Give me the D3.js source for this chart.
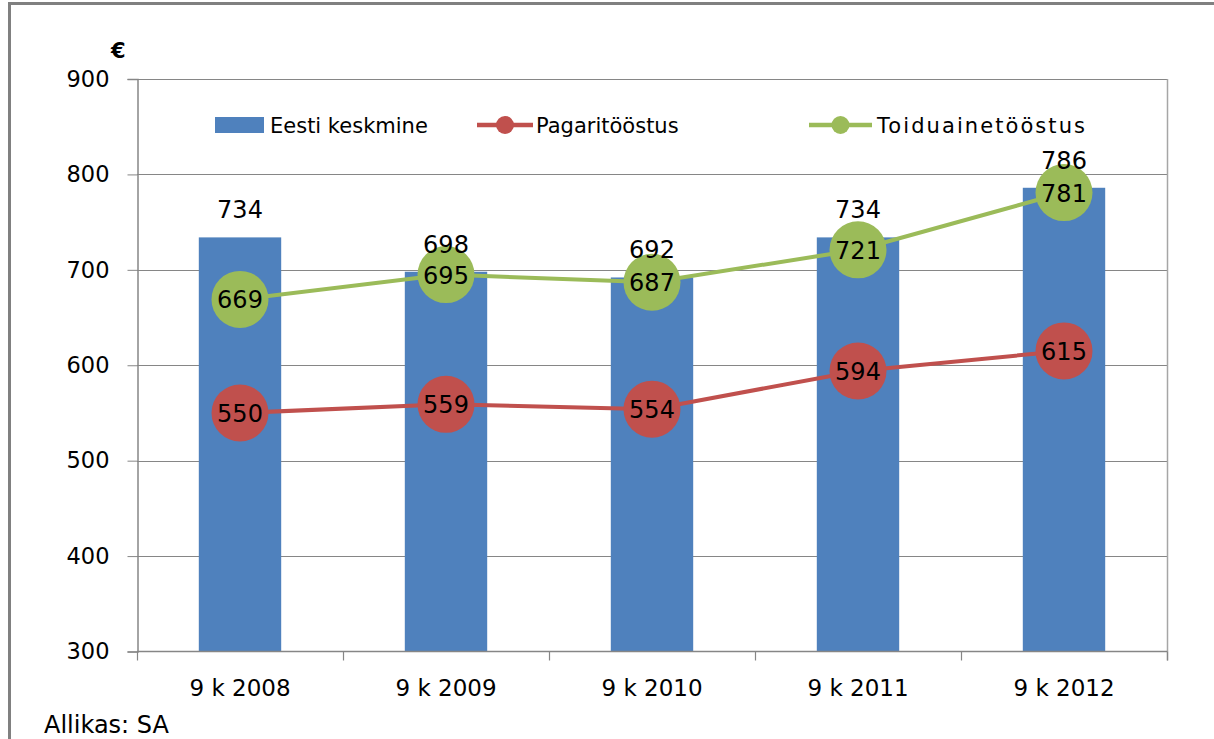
<!DOCTYPE html>
<html><head><meta charset="utf-8">
<script src="https://cdn.jsdelivr.net/npm/d3@7"></script>
<style>html,body{margin:0;padding:0;background:#fff}svg{display:block}text{font-family:"DejaVu Sans",Verdana,sans-serif}</style>
</head><body>
<svg id="c" width="1214" height="739"></svg>
<script>
const categories = ["9 k 2008","9 k 2009","9 k 2010","9 k 2011","9 k 2012"];
const eestiKeskmine = [734,698,692,734,786];
const pagaritoostus = [550,559,554,594,615];
const toiduainetoostus = [669,695,687,721,781];
const yTicks = [300,400,500,600,700,800,900];
const seriesNames = ["Eesti keskmine","Pagaritööstus","Toiduainetööstus"];
const colors = {bar:"#4F81BD", red:"#C0504D", green:"#9BBB59", grid:"#868686"};

const svg = d3.select("#c");
const L=137, R=1167, T=79, B=651.5;

// outer frame
svg.append("line").attr("x1",8).attr("x2",1214).attr("y1",3.5).attr("y2",3.5).attr("stroke","#808080").attr("stroke-width",3);
svg.append("line").attr("x1",9.5).attr("x2",9.5).attr("y1",2).attr("y2",739).attr("stroke","#808080").attr("stroke-width",3);

const x = d3.scaleBand().domain(categories).range([L,R]).paddingInner(0.6).paddingOuter(0.3);
const xc = d => x(d)+x.bandwidth()/2;
const y = d3.scaleLinear().domain([300,900]).range([B,T]);

// gridlines
svg.append("g").selectAll("line").data(yTicks.filter(t=>t>300)).join("line")
  .attr("x1",L).attr("x2",R).attr("y1",d=>Math.round(y(d))+0.5).attr("y2",d=>Math.round(y(d))+0.5)
  .attr("stroke",colors.grid).attr("stroke-width",1);
// right border
svg.append("line").attr("x1",R+0.5).attr("x2",R+0.5).attr("y1",T).attr("y2",B+9).attr("stroke","#A6A6A6").attr("stroke-width",1.5);

// y axis
const yAxis = d3.axisLeft(y).tickValues(yTicks).tickSize(10).tickPadding(16).tickFormat(d3.format("d"));
const gy = svg.append("g").attr("transform",`translate(${L+0.5},0)`).call(yAxis);
gy.select(".domain").attr("stroke","#868686").attr("stroke-width",1.5);
gy.selectAll(".tick line").attr("stroke","#868686");
gy.selectAll("text").attr("font-size",22.5).attr("fill","#000").attr("font-family","DejaVu Sans").attr("dx",-2);

// bars
svg.append("g").selectAll("rect").data(eestiKeskmine).join("rect")
  .attr("x",(d,i)=>x(categories[i])).attr("width",x.bandwidth())
  .attr("y",d=>y(d)).attr("height",d=>B-y(d)).attr("fill",colors.bar);

// x axis
const xb = d3.scalePoint().domain(d3.range(6)).range([L,R]);
const gx = svg.append("g").attr("transform",`translate(0,${B})`);
gx.append("line").attr("x1",L).attr("x2",R).attr("y1",0).attr("y2",0).attr("stroke","#868686").attr("stroke-width",1.5);
gx.selectAll("line.t").data(d3.range(6)).join("line").attr("class","t")
  .attr("x1",d=>xb(d)+0.5).attr("x2",d=>xb(d)+0.5).attr("y1",0).attr("y2",9).attr("stroke","#868686").attr("stroke-width",1.2);
gx.selectAll("text").data(categories).join("text")
  .attr("x",d=>xc(d)).attr("y",44).attr("text-anchor","middle").attr("font-size",23).attr("fill","#000").text(d=>d);

function lineSeries(vals,color){
  const line = d3.line().x((d,i)=>xc(categories[i])).y(d=>y(d));
  svg.append("path").datum(vals).attr("d",line).attr("fill","none").attr("stroke",color).attr("stroke-width",4);
  const g = svg.append("g");
  g.selectAll("circle").data(vals).join("circle")
    .attr("cx",(d,i)=>xc(categories[i])).attr("cy",d=>y(d)).attr("r",28.5).attr("fill",color);
  g.selectAll("text").data(vals).join("text")
    .attr("x",(d,i)=>xc(categories[i])).attr("y",d=>y(d)+9).attr("text-anchor","middle")
    .attr("font-size",24).attr("fill","#000").text(d=>d);
}
lineSeries(pagaritoostus,colors.red);
lineSeries(toiduainetoostus,colors.green);

// bar labels (on top)
svg.append("g").selectAll("text").data(eestiKeskmine).join("text")
  .attr("x",(d,i)=>xc(categories[i])).attr("y",d=>y(d)-19).attr("text-anchor","middle")
  .attr("font-size",24).attr("fill","#000").text(d=>d);

// legend
const lg = svg.append("g");
lg.append("rect").attr("x",215).attr("y",117).attr("width",49).attr("height",16).attr("fill",colors.bar);
lg.append("text").attr("x",270).attr("y",133).attr("font-size",21).text(seriesNames[0]);
[[477,533,colors.red,536,seriesNames[1]],[809,872,colors.green,877,seriesNames[2]]].forEach(([a,b,c,tx,name])=>{
  lg.append("line").attr("x1",a).attr("x2",b).attr("y1",125).attr("y2",125).attr("stroke",c).attr("stroke-width",4.5);
  lg.append("circle").attr("cx",(a+b)/2).attr("cy",125).attr("r",9).attr("fill",c);
  lg.append("text").attr("x",tx).attr("y",133).attr("font-size",21).attr("textLength",name===seriesNames[2]?208:null).text(name);
});

// euro unit and source
svg.append("text").attr("x",111).attr("y",58).attr("font-size",21).attr("font-weight","bold").text("€");
svg.append("text").attr("x",44).attr("y",733).attr("font-size",24).text("Allikas: SA");
</script>
</body></html>
